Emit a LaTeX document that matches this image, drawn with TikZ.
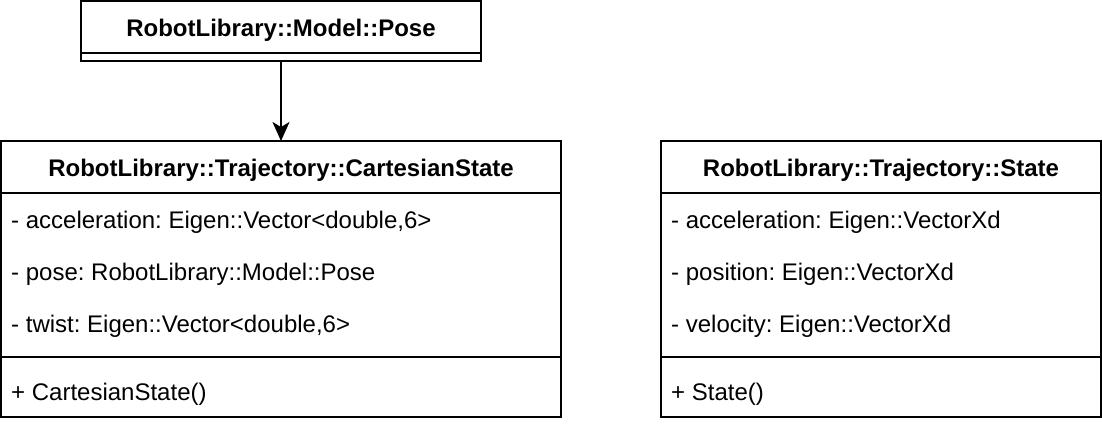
\documentclass[tikz,border=0pt]{standalone}
\usepackage{fontspec}
\setmainfont{Liberation Sans}
\usetikzlibrary{arrows.meta}
\begin{document}
\frenchspacing
\begin{tikzpicture}[x=1pt,y=-1pt,
  box/.style={draw=black,line width=2pt,fill=white},
  sep/.style={draw=black,line width=2pt},
  title/.style={font=\fontsize{24}{28}\selectfont\bfseries\frenchspacing,inner sep=0pt,anchor=base},
  member/.style={font=\fontsize{24}{28}\selectfont\frenchspacing,inner sep=0pt,anchor=base west},
  link/.style={draw=black,line width=2pt,-{Stealth[length=19pt,width=17pt,inset=5pt]}}]
\useasboundingbox (0,0) rectangle (1102,424);
% Pose
\draw[box] (81,1) rectangle (481,61);
\draw[sep] (81,53) -- (481,53);
\node[title] (pose) at (281,36) {RobotLibrary::Model::Pose};
\coordinate (poseb) at (281,61);
% CartesianState
\draw[box] (1,141) rectangle (561,417);
\draw[sep] (1,193) -- (561,193);
\draw[sep] (1,357) -- (561,357);
\node[title] (cs) at (281,176) {RobotLibrary::Trajectory::CartesianState};
\coordinate (cst) at (281,141);
\node[member] (cs1) at (11,228) {- acceleration: Eigen::Vector<double,6>};
\node[member] (cs2) at (11,280) {- pose: RobotLibrary::Model::Pose};
\node[member] (cs3) at (11,332) {- twist: Eigen::Vector<double,6>};
\node[member] (cs4) at (11,400) {+ CartesianState()};
% State
\draw[box] (661,141) rectangle (1101,417);
\draw[sep] (661,193) -- (1101,193);
\draw[sep] (661,357) -- (1101,357);
\node[title] (st) at (881,176) {RobotLibrary::Trajectory::State};
\node[member] (st1) at (671,228) {- acceleration: Eigen::VectorXd};
\node[member] (st2) at (671,280) {- position: Eigen::VectorXd};
\node[member] (st3) at (671,332) {- velocity: Eigen::VectorXd};
\node[member] (st4) at (671,400) {+ State()};
% connector
\draw[link] (poseb) -- (cst);
\end{tikzpicture}
\end{document}
